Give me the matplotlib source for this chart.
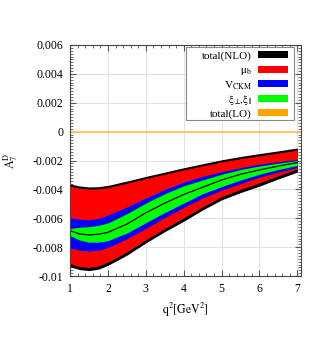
import matplotlib
matplotlib.use('Agg')
import matplotlib.pyplot as plt
import numpy as np
from matplotlib.patches import Rectangle
from matplotlib.ticker import MultipleLocator, FuncFormatter


# q^2 grid and band edges, in units of 1e-3
q2 = [1.0, 1.25, 1.5, 1.75, 2.0, 2.5, 3.0, 3.5, 4.0, 4.5, 5.0, 5.5, 6.0, 6.5, 7.0]

nlo_hi = [-3.62, -3.76, -3.83, -3.81, -3.72, -3.42, -3.10, -2.80, -2.50, -2.22, -1.95, -1.72, -1.52, -1.33, -1.13]
nlo_lo = [-9.35, -9.55, -9.62, -9.52, -9.25, -8.55, -7.70, -6.92, -6.20, -5.42, -4.72, -4.22, -3.77, -3.27, -2.80]

mub_hi = [-3.77, -3.91, -3.98, -3.96, -3.87, -3.57, -3.25, -2.95, -2.65, -2.37, -2.10, -1.87, -1.67, -1.48, -1.28]
mub_lo = [-9.13, -9.33, -9.40, -9.30, -9.03, -8.33, -7.48, -6.70, -5.98, -5.20, -4.50, -4.00, -3.55, -3.05, -2.58]

ckm_hi = [-5.95, -6.05, -6.10, -6.00, -5.78, -5.22, -4.60, -4.00, -3.50, -3.10, -2.78, -2.50, -2.25, -2.08, -1.93]
ckm_lo = [-8.05, -8.20, -8.27, -8.20, -8.02, -7.42, -6.70, -5.95, -5.25, -4.60, -4.05, -3.60, -3.15, -2.80, -2.48]

xi_hi = [-6.70, -6.62, -6.58, -6.48, -6.32, -5.68, -4.95, -4.30, -3.75, -3.35, -2.95, -2.62, -2.38, -2.18, -2.00]
xi_lo = [-7.20, -7.50, -7.65, -7.65, -7.55, -7.02, -6.30, -5.60, -4.95, -4.30, -3.80, -3.35, -2.95, -2.62, -2.34]

central = [-6.85, -7.08, -7.15, -7.10, -6.97, -6.40, -5.62, -4.95, -4.35, -3.85, -3.35, -2.95, -2.65, -2.38, -2.14]

lo_value = [0.0] * len(q2)

labels = ['total(NLO)', r'$\mathrm{\mu_b}$', r'$\mathrm{V_{CKM}}$',
          r'$\mathrm{\xi_{\perp}\!,\!\xi_{||}}$', 'total(LO)']
colors = ['black', 'red', 'blue', '#00ff00', 'orange']


plt.rcParams['font.family'] = 'Liberation Serif'
plt.rcParams['mathtext.fontset'] = 'stix'

x = np.array(q2)
s = 1e-3

fig = plt.figure(figsize=(3.2, 3.54), dpi=100)
ax = fig.add_axes([0.219, 0.22, 0.722, 0.653])

ax.fill_between(x, np.array(nlo_lo) * s, np.array(nlo_hi) * s, color='black', lw=0)
ax.fill_between(x, np.array(mub_lo) * s, np.array(mub_hi) * s, color='red', lw=0)
ax.fill_between(x, np.array(ckm_lo) * s, np.array(ckm_hi) * s, color='blue', lw=0)
ax.fill_between(x, np.array(xi_lo) * s, np.array(xi_hi) * s, color='#00ff00', lw=0)
ax.plot(x, np.array(central) * s, color='black', lw=0.9)
ax.plot([1, 7.1], [lo_value[0], lo_value[0]], color='#ffc060', lw=1.3)

ax.set_xlim(1, 7.1)
ax.set_ylim(-0.01, 0.006)
ax.xaxis.set_major_locator(MultipleLocator(1))
ax.xaxis.set_minor_locator(MultipleLocator(0.2))
ax.yaxis.set_major_locator(MultipleLocator(0.002))
ax.yaxis.set_minor_locator(MultipleLocator(0.0002))
ax.yaxis.set_major_formatter(FuncFormatter(lambda v, p: '%g' % round(v, 4)))
ax.xaxis.set_major_formatter(FuncFormatter(lambda v, p: '%g' % v))
ax.tick_params(which='both', direction='in', top=True, right=True,
               labelsize=8.5, color='#555555')
ax.tick_params(which='major', length=4, pad=5)
ax.tick_params(which='minor', length=2)
ax.grid(True, color='#dddddd', lw=0.6)
ax.set_axisbelow(True)
for sp in ax.spines.values():
    sp.set_color('#444444')
    sp.set_linewidth(0.8)

ax.set_xlabel(r'$\mathrm{q^2[GeV^2]}$', fontsize=8.5)
ax.set_ylabel(r'$\mathrm{A_7^D}$', fontsize=8.5)
ax.yaxis.set_label_coords(-0.215, 0.5)

# gnuplot-style key: framed box, label right-aligned, then a swatch
ax.add_patch(Rectangle((0.502, 0.675), 0.468, 0.316, transform=ax.transAxes,
                       facecolor='white', edgecolor='#888888', lw=0.8, zorder=4.5))
row_y = 0.957
for label, color in zip(labels, colors):
    ax.text(0.788, row_y, label, transform=ax.transAxes, ha='right',
            va='center_baseline', fontsize=8, zorder=5)
    ax.add_patch(Rectangle((0.814, row_y - 0.015), 0.130, 0.030,
                           transform=ax.transAxes, facecolor=color,
                           edgecolor='none', zorder=5))
    row_y -= 0.0627

fig.savefig('out.png', dpi=100)
